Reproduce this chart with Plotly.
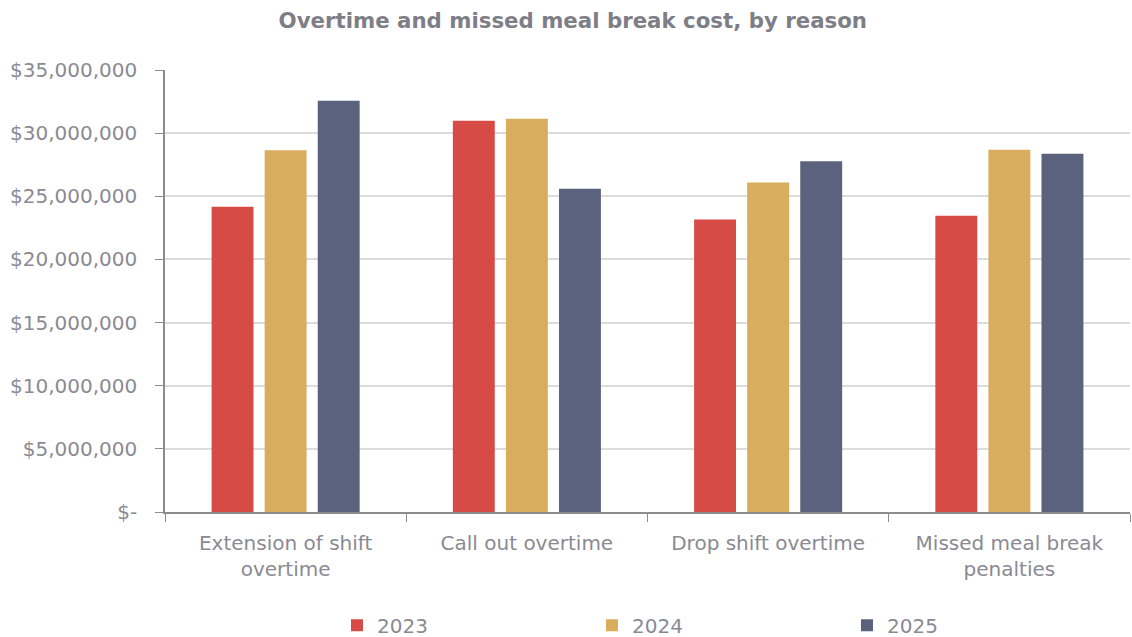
import plotly.graph_objects as go

categories = ["Extension of shift<br>overtime", "Call out overtime", "Drop shift overtime", "Missed meal break<br>penalties"]
years = ["2023", "2024", "2025"]
values_2023 = [24170000, 30980000, 23170000, 23460000]
values_2024 = [28640000, 31140000, 26100000, 28690000]
values_2025 = [32570000, 25600000, 27770000, 28370000]
colors = ["#D64B46", "#D8AD5E", "#5B627E"]
tick_vals = [0, 5000000, 10000000, 15000000, 20000000, 25000000, 30000000, 35000000]
tick_text = ["$-", "$5,000,000", "$10,000,000", "$15,000,000", "$20,000,000",
             "$25,000,000", "$30,000,000", "$35,000,000"]

series = [values_2023, values_2024, values_2025]
font_family = "DejaVu Sans, sans-serif"
grey = "#8A8A93"

fig = go.Figure()
for name, vals, col in zip(years, series, colors):
    fig.add_trace(go.Bar(name=name, x=categories, y=vals, marker_color=col,
                         marker_line_width=0))

fig.update_layout(
    width=1132, height=637,
    margin=dict(l=165, r=2, t=70, b=125, autoexpand=False),
    paper_bgcolor="white", plot_bgcolor="white",
    barmode="group", bargap=0.34, bargroupgap=0.21,
    title=dict(text="<b>Overtime and missed meal break cost, by reason</b>",
               x=0.506, xanchor="center", y=0.968, yanchor="middle",
               font=dict(family=font_family, size=21.3, color="#7E7E87")),
    font=dict(family=font_family, color=grey),
    legend=dict(orientation="h", x=0.5746, xanchor="center", y=-0.256, yanchor="middle",
                entrywidth=210, entrywidthmode="pixels",
                font=dict(size=20, color=grey)),
    showlegend=True,
)
fig.update_yaxes(range=[0, 35000000], tickvals=tick_vals, ticktext=tick_text,
                 showgrid=True, gridcolor="#DCDCDC", gridwidth=1.5,
                 showline=True, linecolor="#8C8C8C", linewidth=1.5,
                 ticks="outside", ticklen=8, tickcolor="#8C8C8C",
                 ticklabelstandoff=14,
                 tickfont=dict(size=20, color=grey), zeroline=False)
fig.update_xaxes(showline=True, linecolor="#8C8C8C", linewidth=1.5,
                 ticks="outside", ticklen=8, tickcolor="#8C8C8C",
                 tickson="boundaries", ticklabelstandoff=12,
                 tickfont=dict(size=20, color=grey))

fig.write_html("out.html")
